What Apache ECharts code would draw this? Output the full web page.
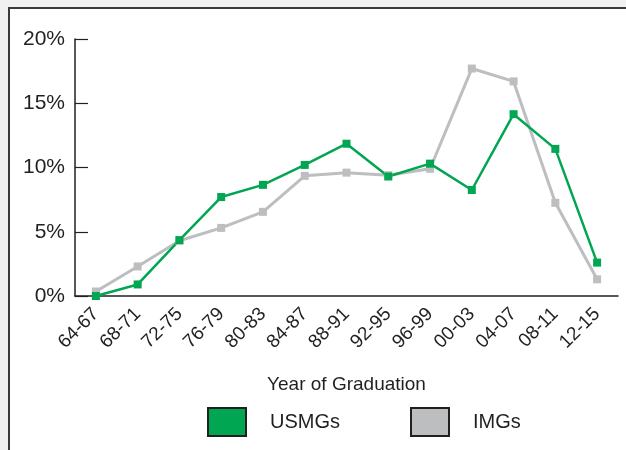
<!DOCTYPE html>
<html>
<head>
<meta charset="utf-8">
<script src="https://cdn.jsdelivr.net/npm/echarts@6/dist/echarts.min.js"></script>
<style>
  html, body { margin: 0; padding: 0; background: #f1f1f1; }
  .frame {
    position: absolute; left: 8px; top: 7px; width: 700px; height: 500px;
    background: #fff; border-top: 2px solid #3a3a3a; border-left: 2px solid #3a3a3a;
  }
  #chart { position: absolute; left: 0; top: 0; width: 626px; height: 450px; }
</style>
</head>
<body>
<div class="frame"></div>
<div id="chart"></div>
<script>
// 毕业年份分组
const categories = ['64-67', '68-71', '72-75', '76-79', '80-83', '84-87', '88-91', '92-95', '96-99', '00-03', '04-07', '08-11', '12-15']
// 百分比
const usmgs = [0.0, 0.9, 4.35, 7.7, 8.65, 10.2, 11.85, 9.3, 10.3, 8.25, 14.15, 11.45, 2.6]
const imgs = [0.35, 2.3, 4.3, 5.3, 6.55, 9.35, 9.6, 9.4, 9.9, 17.7, 16.7, 7.25, 1.3]
const yTicks = [0, 5, 10, 15, 20]

const green = '#00a651'
const gray = '#bcbec0'
const ink = '#231f20'

const chart = echarts.init(document.getElementById('chart'))

chart.setOption({
  animation: false,
  textStyle: { fontFamily: 'Liberation Sans, Arial, sans-serif' },
  grid: { left: 75, top: 39, right: 8, bottom: 154 },
  legend: {
    data: ['USMGs', 'IMGs'],
    left: 207,
    top: 407,
    padding: 0,
    icon: 'rect',
    itemWidth: 38,
    itemHeight: 28,
    itemGap: 70,
    itemStyle: { borderColor: ink, borderWidth: 2 },
    textStyle: { color: ink, fontSize: 20, padding: [0, 0, 0, 19] },
  },
  xAxis: {
    type: 'category',
    data: categories,
    name: 'Year of Graduation',
    nameLocation: 'middle',
    nameGap: 79,
    nameTextStyle: { color: ink, fontSize: 19 },
    axisLine: { lineStyle: { color: ink, width: 1.5 } },
    axisTick: { inside: true, length: 6, lineStyle: { color: ink, width: 1.2 } },
    axisLabel: { rotate: 45, color: ink, fontSize: 19, margin: 15 },
  },
  yAxis: {
    type: 'value',
    min: yTicks[0],
    max: yTicks[yTicks.length - 1],
    interval: 5,
    splitLine: { show: false },
    axisLine: { show: true, lineStyle: { color: ink, width: 1.5 } },
    axisTick: { show: true, inside: true, length: 13, lineStyle: { color: ink, width: 1.2 } },
    axisLabel: { color: ink, fontSize: 21, margin: 10, formatter: '{value}%' },
  },
  series: [
    {
      name: 'IMGs',
      type: 'line',
      data: imgs,
      symbol: 'rect',
      symbolSize: 8,
      color: gray,
      lineStyle: { color: gray, width: 3 },
      itemStyle: { color: gray },
    },
    {
      name: 'USMGs',
      type: 'line',
      data: usmgs,
      symbol: 'rect',
      symbolSize: 8,
      color: green,
      lineStyle: { color: green, width: 2.5 },
      itemStyle: { color: green },
    },
  ],
})
</script>
</body>
</html>
